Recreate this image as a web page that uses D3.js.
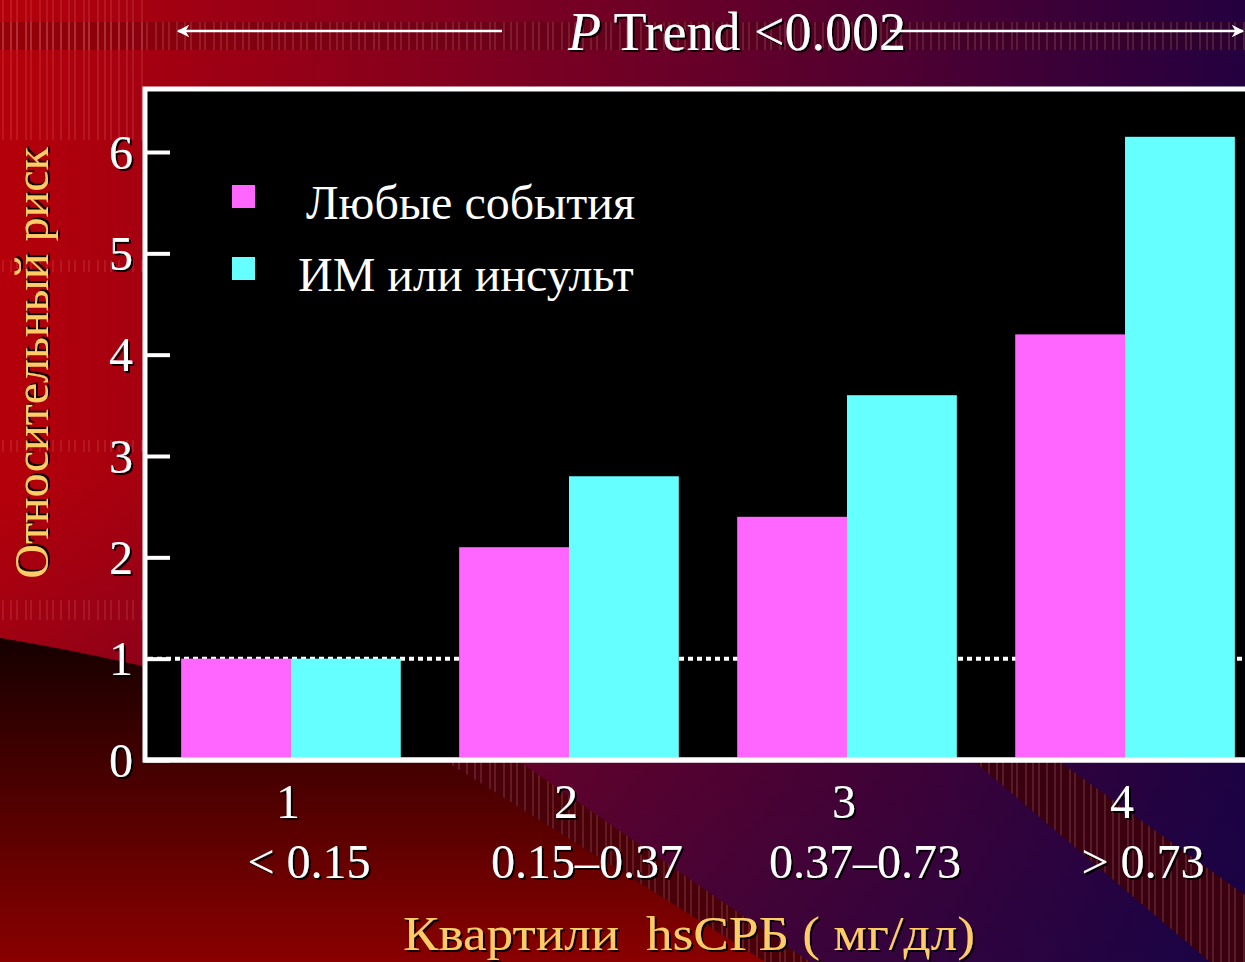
<!DOCTYPE html>
<html>
<head>
<meta charset="utf-8">
<script src="https://cdn.jsdelivr.net/npm/d3@7"></script>
<style>
  html, body { margin: 0; padding: 0; background: #000; }
  svg { display: block; }
  text { font-family: "Liberation Serif", "Times New Roman", serif; }
</style>
</head>
<body>
<div id="chart"></div>
<script>
/* ---------- data ---------- */
const quartiles   = ['1', '2', '3', '4'];
const rangeLabels = ['< 0.15', '0.15–0.37', '0.37–0.73', '> 0.73'];
const seriesNames = ['Любые события', 'ИМ или инсульт'];
const anyEvent    = [1.0, 2.1, 2.4, 4.2];
const miStroke    = [1.0, 2.8, 3.6, 6.15];
const yTicks      = [0, 1, 2, 3, 4, 5, 6];
const colors      = ['#ff66ff', '#66ffff'];
const titleText   = 'Trend <0.002';
const yTitle      = 'Относительный риск';
const xTitle      = 'Квартили  hsСРБ ( мг/дл)';

/* ---------- layout ---------- */
const W = 1245, H = 962;
const plot = { left: 145, top: 89, bottom: 760, right: 1245 };

const svg = d3.select('#chart').append('svg')
  .attr('width', W).attr('height', H);

const defs = svg.append('defs');

// background gradient: red -> dark purple
const bg = defs.append('linearGradient').attr('id', 'bg')
  .attr('x1', 0).attr('x2', 1).attr('y1', 0).attr('y2', 0);
bg.append('stop').attr('offset', 0).attr('stop-color', '#b5000a');
bg.append('stop').attr('offset', 0.5).attr('stop-color', '#700026');
bg.append('stop').attr('offset', 1).attr('stop-color', '#240040');

const bgLow = defs.append('linearGradient').attr('id', 'bgLow')
  .attr('x1', 0).attr('x2', 0).attr('y1', 0).attr('y2', 1);
bgLow.append('stop').attr('offset', 0).attr('stop-color', '#000a50').attr('stop-opacity', 0);
bgLow.append('stop').attr('offset', 1).attr('stop-color', '#000a50').attr('stop-opacity', 0.35);

const darkShape = defs.append('linearGradient').attr('id', 'darkShape')
  .attr('x1', 0).attr('x2', 0).attr('y1', 0).attr('y2', 1);
darkShape.append('stop').attr('offset', 0).attr('stop-color', '#160000');
darkShape.append('stop').attr('offset', 1).attr('stop-color', '#8a0000');

// thin vertical stripes used as texture
const stripes = defs.append('pattern').attr('id', 'stripes')
  .attr('patternUnits', 'userSpaceOnUse').attr('width', 58).attr('height', 10);
[3, 11, 17, 26, 31, 40, 47, 53].forEach(o => {
  stripes.append('line').attr('x1', o).attr('x2', o).attr('y1', 0).attr('y2', 10)
    .attr('stroke', '#ffb0b0').attr('stroke-opacity', 0.3).attr('stroke-width', 1);
});

const shadow = defs.append('filter').attr('id', 'shadow')
  .attr('x', '-10%').attr('y', '-10%').attr('width', '130%').attr('height', '140%');
shadow.append('feDropShadow').attr('dx', 2).attr('dy', 2)
  .attr('stdDeviation', 0.6).attr('flood-color', '#000').attr('flood-opacity', 0.9);

/* ---------- background ---------- */
svg.append('rect').attr('width', W).attr('height', H).attr('fill', 'url(#bg)');
svg.append('rect').attr('y', 480).attr('width', W).attr('height', H - 480).attr('fill', 'url(#bgLow)');

// dark stripe bands
svg.append('rect').attr('x', 0).attr('y', 22).attr('width', W).attr('height', 28)
  .attr('fill', '#3a0000').attr('opacity', 0.25);
svg.append('rect').attr('x', 0).attr('y', 22).attr('width', W).attr('height', 28)
  .attr('fill', 'url(#stripes)');
[[0, 140], [260, 272], [440, 452], [600, 620]].forEach(([y0, y1]) => {
  svg.append('rect').attr('x', 0).attr('y', y0).attr('width', plot.left).attr('height', y1 - y0)
    .attr('fill', 'url(#stripes)').attr('opacity', 0.8);
});

// right diagonal band
svg.append('path')
  .attr('d', 'M975,762 L1060,762 L1245,895 L1245,962 L1210,962 Z')
  .attr('fill', '#3a0010');
svg.append('path')
  .attr('d', 'M975,762 L1060,762 L1245,895 L1245,962 L1210,962 Z')
  .attr('fill', 'url(#stripes)');

// lower-left dark region + its striped edge
svg.append('path')
  .attr('d', 'M0,638 Q250,680 447,762 L520,762 L810,962 L0,962 Z')
  .attr('fill', '#4a0008');
svg.append('path')
  .attr('d', 'M0,638 Q250,680 447,762 L520,762 L810,962 L0,962 Z')
  .attr('fill', 'url(#stripes)');
svg.append('path')
  .attr('d', 'M0,638 Q250,680 447,762 L765,962 L0,962 Z')
  .attr('fill', 'url(#darkShape)');

/* ---------- scales ---------- */
const x0 = d3.scaleBand().domain(quartiles)
  .range([plot.left, 1271]).paddingInner(0.21).paddingOuter(0.13);
const x1 = d3.scaleBand().domain(seriesNames).range([0, x0.bandwidth()]);
const y = d3.scaleLinear().domain([0, 6]).range([plot.bottom, 152]);

/* ---------- plot area ---------- */
svg.append('rect')
  .attr('x', plot.left).attr('y', plot.top)
  .attr('width', plot.right - plot.left + 20).attr('height', plot.bottom - plot.top)
  .attr('fill', '#000').attr('stroke', '#fff').attr('stroke-width', 5);

// reference line at RR = 1
svg.append('line')
  .attr('x1', plot.left + 3).attr('x2', plot.right)
  .attr('y1', y(1)).attr('y2', y(1))
  .attr('stroke', '#fff').attr('stroke-width', 4).attr('stroke-dasharray', '5,4');

const rows = quartiles.map((q, i) => ({ q, values: [anyEvent[i], miStroke[i]] }));

svg.append('g').selectAll('g')
  .data(rows).join('g')
  .attr('transform', d => `translate(${x0(d.q)},0)`)
  .selectAll('rect')
  .data(d => d.values.map((v, i) => ({ name: seriesNames[i], v, i })))
  .join('rect')
  .attr('x', d => x1(d.name))
  .attr('width', x1.bandwidth())
  .attr('y', d => y(d.v))
  .attr('height', d => y(0) - y(d.v))
  .attr('fill', d => colors[d.i]);

// bottom axis line
svg.append('line')
  .attr('x1', plot.left - 2).attr('x2', W)
  .attr('y1', plot.bottom).attr('y2', plot.bottom)
  .attr('stroke', '#fff').attr('stroke-width', 5);

/* ---------- y axis ---------- */
const yAxis = svg.append('g')
  .attr('transform', `translate(${plot.left},0)`)
  .call(d3.axisLeft(y).tickValues(yTicks).tickFormat(d3.format('d'))
    .tickSizeInner(-25).tickSizeOuter(0).tickPadding(12));
yAxis.select('.domain').remove();
yAxis.selectAll('.tick line').attr('stroke', '#fff').attr('stroke-width', 4);
yAxis.selectAll('.tick text')
  .attr('fill', '#fff').attr('font-size', 48).attr('dy', '0.34em')
  .style('font-family', '"Liberation Serif", serif')
  .attr('filter', 'url(#shadow)');

/* ---------- x labels ---------- */
const xAxis = svg.append('g')
  .attr('transform', `translate(0,${plot.bottom})`)
  .call(d3.axisBottom(x0).tickSize(0).tickPadding(0));
xAxis.select('.domain').remove();
xAxis.selectAll('.tick text')
  .attr('y', 58).attr('dy', 0).attr('dx', -3)
  .attr('fill', '#fff').attr('font-size', 48)
  .style('font-family', '"Liberation Serif", serif')
  .attr('filter', 'url(#shadow)');

svg.append('g').selectAll('text')
  .data(quartiles).join('text')
  .attr('x', d => x0(d) + x0.bandwidth() / 2 + 18)
  .attr('y', 878)
  .attr('text-anchor', 'middle')
  .attr('fill', '#fff').attr('font-size', 48)
  .attr('filter', 'url(#shadow)')
  .text((d, i) => rangeLabels[i]);

/* ---------- legend ---------- */
const legend = svg.append('g').selectAll('g')
  .data(seriesNames).join('g')
  .attr('transform', (d, i) => `translate(232,${185 + i * 72})`);
legend.append('rect').attr('width', 23).attr('height', 23)
  .attr('fill', (d, i) => colors[i]);
legend.append('text')
  .attr('x', (d, i) => i === 0 ? 74 : 66)
  .attr('y', 34)
  .attr('fill', '#fff').attr('font-size', 48)
  .text(d => d);

/* ---------- titles ---------- */
svg.append('text')
  .attr('transform', 'translate(48,363) rotate(-90)')
  .attr('text-anchor', 'middle')
  .attr('fill', '#ffcc66').attr('font-size', 48)
  .attr('filter', 'url(#shadow)')
  .text(yTitle);

svg.append('text')
  .attr('x', 689).attr('y', 950)
  .attr('text-anchor', 'middle')
  .style('white-space', 'pre')
  .attr('textLength', 572).attr('lengthAdjust', 'spacingAndGlyphs')
  .attr('fill', '#ffcc66').attr('font-size', 49)
  .attr('filter', 'url(#shadow)')
  .text(xTitle);

const title = svg.append('text')
  .attr('x', 737).attr('y', 50)
  .attr('text-anchor', 'middle')
  .attr('fill', '#fff').attr('font-size', 54)
  .attr('filter', 'url(#shadow)');
title.append('tspan').attr('font-style', 'italic').text('P');
title.append('tspan').text(' ' + titleText);

// trend arrows
const arrowHead = defs.append('marker').attr('id', 'arrow')
  .attr('viewBox', '0 0 10 10').attr('refX', 9).attr('refY', 5)
  .attr('markerWidth', 5).attr('markerHeight', 5).attr('orient', 'auto');
arrowHead.append('path').attr('d', 'M0,0 L10,5 L0,10 L3,5 Z').attr('fill', '#fff');

svg.append('line').attr('x1', 502).attr('x2', 178).attr('y1', 31).attr('y2', 31)
  .attr('stroke', '#fff').attr('stroke-width', 2.5).attr('marker-end', 'url(#arrow)');
svg.append('line').attr('x1', 890).attr('x2', 1243).attr('y1', 31).attr('y2', 31)
  .attr('stroke', '#fff').attr('stroke-width', 2.5).attr('marker-end', 'url(#arrow)');
</script>
</body>
</html>
